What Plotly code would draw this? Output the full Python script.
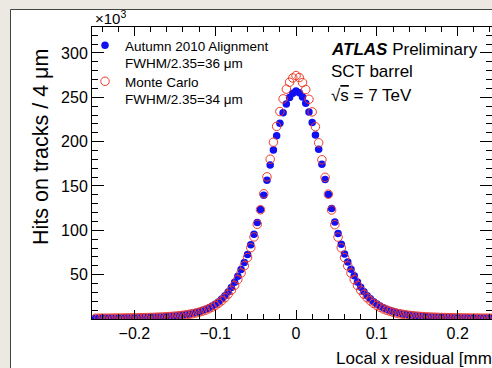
import numpy as np
import plotly.graph_objects as go

# Histogram binning: 4 um bins from -0.25 to 0.25 mm
x_low, x_high, bin_width = -0.25, 0.25, 0.004
n_bins = 125
bin_centers = [round(x_low + bin_width * (i + 0.5), 4) for i in range(n_bins)]

# Autumn 2010 Alignment (data), hits in units of 10^3 ; left side (-0.248 .. -0.004)
blue_left = [0.93, 0.95, 0.99, 1.02, 1.06, 1.10, 1.13, 1.18, 1.22, 1.27, 1.32, 1.38, 1.45, 1.52, 1.60,
             1.69, 1.79, 1.91, 2.04, 2.19, 2.37, 2.57, 2.79, 3.04, 3.34, 3.69, 4.10, 4.58, 5.10, 5.70,
             6.45, 7.30, 8.30, 9.45, 10.9, 12.5, 14.5, 16.7, 19.3, 22.5, 26.1, 30.4, 35.4, 41.4, 48.3,
             55.8, 63.8, 72.8, 83.8, 95.7, 108.8, 123.6, 139.5, 156.5, 173.6, 190.5, 206.6, 220.8,
             232.7, 242.6, 249.7, 254.6]
blue_center = [257.0]
blue_right = [255.2, 250.3, 243.4, 233.5, 221.6, 207.4, 191.3, 174.5, 157.4, 140.3, 124.5, 109.4, 96.3,
              84.3, 73.3, 64.3, 56.2, 48.7, 41.7, 35.7, 30.7, 26.3, 22.7, 19.5, 16.9, 14.6, 12.6, 11.0,
              9.55, 8.35, 7.35, 6.50, 5.75, 5.12, 4.60, 4.12, 3.71, 3.36, 3.06, 2.80, 2.58, 2.38, 2.21,
              2.05, 1.92, 1.80, 1.70, 1.61, 1.53, 1.46, 1.39, 1.33, 1.28, 1.23, 1.18, 1.13, 1.09, 1.05,
              1.02, 0.98, 0.95, 0.92]

# Monte Carlo, hits in units of 10^3
red_left = [0.90, 0.92, 0.95, 0.98, 1.01, 1.04, 1.08, 1.12, 1.16, 1.21, 1.26, 1.31, 1.37, 1.44, 1.51,
            1.59, 1.68, 1.78, 1.90, 2.03, 2.19, 2.37, 2.58, 2.82, 3.10, 3.42, 3.80, 4.25, 4.75, 5.35,
            6.00, 6.80, 7.70, 8.80, 10.0, 11.5, 13.3, 15.3, 17.7, 20.6, 24.0, 28.0, 32.6, 38.0, 44.6,
            52.0, 60.0, 69.4, 80.4, 92.6, 106.8, 123.2, 141.2, 160.3, 180.2, 199.4, 217.2, 234.0,
            248.3, 259.2, 267.0, 271.8]
red_center = [274.5]
red_right = [272.3, 266.6, 258.8, 247.8, 233.6, 216.8, 198.7, 179.6, 159.8, 140.8, 122.9, 106.3, 92.3,
             80.2, 69.2, 59.8, 51.8, 44.4, 37.9, 32.4, 27.9, 23.9, 20.5, 17.6, 15.2, 13.2, 11.4, 9.95,
             8.75, 7.65, 6.75, 5.95, 5.30, 4.72, 4.22, 3.78, 3.40, 3.08, 2.80, 2.56, 2.35, 2.17, 2.02,
             1.89, 1.77, 1.67, 1.58, 1.50, 1.43, 1.36, 1.30, 1.25, 1.20, 1.15, 1.11, 1.07, 1.03, 1.00,
             0.97, 0.94, 0.91, 0.88]

blue_vals = blue_left + blue_center + blue_right
red_vals = red_left + red_center + red_right

x_ticks = [-0.2, -0.1, 0, 0.1, 0.2]
x_tick_labels = ["\u22120.2", "\u22120.1", "0", "0.1", "0.2"]
y_ticks = [50, 100, 150, 200, 250, 300]
y_tick_labels = ["50", "100", "150", "200", "250", "300"]

FONT = "Liberation Sans, Arial, Helvetica, sans-serif"
BLUE = "#1010f2"
RED = "#ee3a2a"

fig = go.Figure()
fig.add_trace(go.Scatter(
    x=bin_centers, y=blue_vals, mode="markers",
    name="Autumn 2010 Alignment<br>FWHM/2.35=36 \u03bcm", legend="legend",
    marker=dict(symbol="circle", size=7.5, color=BLUE, line=dict(width=0)),
))
fig.add_trace(go.Scatter(
    x=bin_centers, y=red_vals, mode="markers",
    name="Monte Carlo<br>FWHM/2.35=34 \u03bcm", legend="legend2",
    marker=dict(symbol="circle-open", size=8.5, color=RED, line=dict(width=1, color=RED)),
))

L, T, W, H = 92, 27, 492, 368
PB = 319
pw = W - L
ph = PB - T

def px_x(p):
    return (p - L) / pw

def px_y(p):
    return (PB - p) / ph

legend_common = dict(
    xanchor="left", yanchor="top",
    bgcolor="rgba(0,0,0,0)", borderwidth=0, valign="top",
    font=dict(size=13.5, family=FONT, color="black"),
    itemsizing="trace",
)

fig.update_layout(
    width=W, height=H,
    margin=dict(l=L, r=0, t=T, b=H - PB, pad=0),
    paper_bgcolor="#ebe9e2",
    plot_bgcolor="rgba(0,0,0,0)",
    font=dict(family=FONT, color="black"),
    showlegend=True,
    legend=dict(x=px_x(85), y=px_y(30), **legend_common),
    legend2=dict(x=px_x(85), y=px_y(66), **legend_common),
    xaxis=dict(
        range=[-0.2525, 0.2425], showgrid=False, zeroline=False,
        showline=True, linecolor="black", linewidth=1, mirror="allticks",
        ticks="inside", ticklen=9, tickcolor="black", tickwidth=1,
        tickvals=x_ticks, ticktext=x_tick_labels,
        tickfont=dict(size=16, family=FONT, color="black"),
        minor=dict(dtick=0.02, tick0=0, ticks="inside", ticklen=5, tickcolor="black", showgrid=False),
    ),
    yaxis=dict(
        range=[0, 329.3], showgrid=False, zeroline=False,
        showline=True, linecolor="black", linewidth=1, mirror="allticks",
        ticks="inside", ticklen=12, tickcolor="black", tickwidth=1,
        tickvals=y_ticks, ticktext=y_tick_labels,
        tickfont=dict(size=16, family=FONT, color="black"),
        minor=dict(dtick=10, tick0=0, ticks="inside", ticklen=6, tickcolor="black", showgrid=False),
    ),
)

# white canvas panel with dark border
fig.add_shape(type="rect", xref="paper", yref="paper",
              x0=px_x(10.5), x1=1.2, y0=-0.3, y1=px_y(9.5),
              fillcolor="white", line=dict(color="#444444", width=1), layer="below")

# y-axis title
fig.add_annotation(xref="paper", yref="paper", x=px_x(41), y=px_y(147),
                   text="Hits on tracks / 4 \u03bcm", textangle=-90, showarrow=False,
                   xanchor="center", yanchor="middle",
                   font=dict(size=21.5, family=FONT, color="black"))
# x10^3 multiplier
fig.add_annotation(xref="paper", yref="paper", x=px_x(93), y=px_y(18),
                   text="\u00d710<sup>3</sup>", showarrow=False,
                   xanchor="left", yanchor="middle",
                   font=dict(size=15, family=FONT, color="black"))
# x-axis title (right aligned, partly outside the window)
fig.add_annotation(xref="paper", yref="paper", x=px_x(334), y=px_y(358),
                   text="Local x residual [mm]", showarrow=False,
                   xanchor="left", yanchor="middle",
                   font=dict(size=17, family=FONT, color="black"))
# ATLAS label
fig.add_annotation(xref="paper", yref="paper", x=px_x(329), y=px_y(50),
                   text="<b><i>ATLAS</i></b> Preliminary", showarrow=False,
                   xanchor="left", yanchor="middle",
                   font=dict(size=17, family=FONT, color="black"))
fig.add_annotation(xref="paper", yref="paper", x=px_x(329), y=px_y(72),
                   text="SCT barrel", showarrow=False,
                   xanchor="left", yanchor="middle",
                   font=dict(size=17, family=FONT, color="black"))
fig.add_annotation(xref="paper", yref="paper", x=px_x(329), y=px_y(95),
                   text="\u221a<span style='text-decoration:overline'>s</span> = 7 TeV", showarrow=False,
                   xanchor="left", yanchor="middle",
                   font=dict(size=17, family=FONT, color="black"))

fig.write_html(
    "out.html",
    config={"displayModeBar": False},
    post_script="document.body.style.margin='0';document.body.style.overflow='hidden';",
)
